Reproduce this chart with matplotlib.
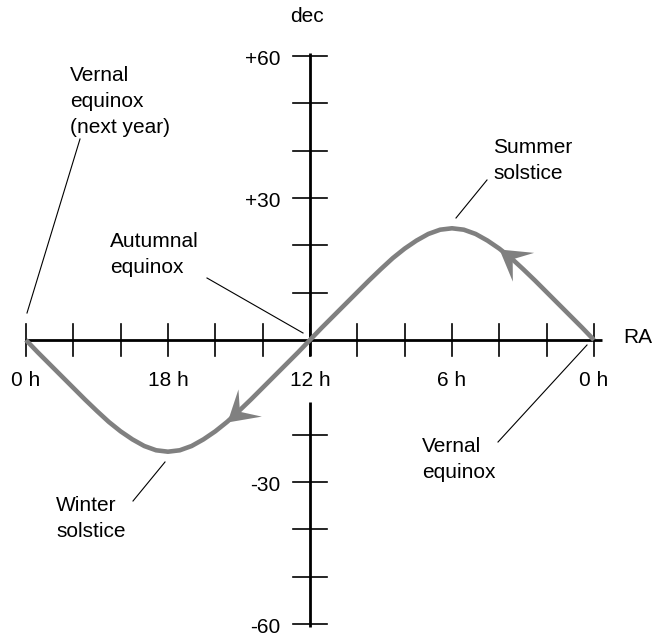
import matplotlib
matplotlib.use('Agg')
import matplotlib.pyplot as plt
from matplotlib.markers import MarkerStyle
from matplotlib.path import Path
from matplotlib.transforms import Affine2D
import numpy as np

plt.rcParams['font.family'] = ['Liberation Sans', 'DejaVu Sans']

# Ekliptik: Rektaszension (h) und Deklination (Grad)
ra = [0, 0.5, 1, 1.5, 2, 2.5, 3, 3.5, 4, 4.5, 5, 5.5, 6, 6.5, 7, 7.5, 8, 8.5, 9, 9.5,
      10, 10.5, 11, 11.5, 12, 12.5, 13, 13.5, 14, 14.5, 15, 15.5, 16, 16.5, 17, 17.5,
      18, 18.5, 19, 19.5, 20, 20.5, 21, 21.5, 22, 22.5, 23, 23.5, 24]
dec = [0.0, 2.6, 5.1, 7.6, 10.1, 12.6, 15.0, 17.3, 19.3, 21.0, 22.4, 23.3, 23.6,
       23.3, 22.4, 21.0, 19.3, 17.3, 15.0, 12.6, 10.1, 7.6, 5.1, 2.6, 0.0,
       -2.6, -5.1, -7.6, -10.1, -12.6, -15.0, -17.3, -19.3, -21.0, -22.4, -23.3, -23.6,
       -23.3, -22.4, -21.0, -19.3, -17.3, -15.0, -12.6, -10.1, -7.6, -5.1, -2.6, 0.0]

# Achsenteilung
ra_ticks = [0, 2, 4, 6, 8, 10, 12, 14, 16, 18, 20, 22, 24]
ra_label_pos = [24, 18, 12, 6, 0]
ra_labels = ['0 h', '18 h', '12 h', '6 h', '0 h']
dec_ticks = [-60, -50, -40, -30, -20, 10, 20, 30, 40, 50, 60]
dec_label_pos = [60, 30, -30, -60]
dec_labels = ['+60', '+30', '-30', '-60']

# Pfeile auf der Kurve (Rektaszension in h)
arrow_ra = [4.0, 15.5]

# Beschriftungen: Text, Position letzte Grundlinie (Pixel), Hinweislinie (Pixel)
notes = [
    ("Vernal\nequinox\n(next year)", (70, 133), [(80, 139), (27, 313)]),
    ("Autumnal\nequinox", (110, 273), [(207, 278), (303, 333)]),
    ("Summer\nsolstice", (493, 179), [(487, 180), (456, 218)]),
    ("Vernal\nequinox", (422, 478), [(498, 442), (587, 345)]),
    ("Winter\nsolstice", (56, 537), [(133, 501), (165, 462)]),
]

W, H = 654, 637
fig = plt.figure(figsize=(W / 100, H / 100), dpi=100)
ax = fig.add_axes([0, 0, 1, 1])
ax.set_xlim(25.095, -2.535)
ax.set_ylim(-62.75, 71.83)
ax.axis('off')

# Pixel-Koordinaten (Ursprung oben links)
pix = Affine2D().scale(1 / W, -1 / H).translate(0, 1) + fig.transFigure

fs = 15
grey = '#808080'

# Achsen (senkrechte Achse unter "12 h" unterbrochen)
ax.plot([24.04, -0.34], [0, 0], color='black', lw=2.0, solid_capstyle='butt', zorder=2)
ax.plot([12, 12], [60.6, -3.4], color='black', lw=2.0, solid_capstyle='butt', zorder=2)
ax.plot([12, 12], [-13.0, -60.6], color='black', lw=2.0, solid_capstyle='butt', zorder=2)
for t in ra_ticks:
    ax.plot([t, t], [-3.4, 3.4], color='black', lw=1.2, zorder=2)
for t in dec_ticks:
    ax.plot([12 - 0.72, 12 + 0.72], [t, t], color='black', lw=1.2, zorder=2)

for t, s in zip(ra_label_pos, ra_labels):
    x = ax.transData.transform((t, 0))[0]
    fig.text(x / W, 1 - 386 / H, s, ha='center', va='baseline', fontsize=fs)
for t, s in zip(dec_label_pos, dec_labels):
    y = ax.transData.transform((0, t))[1]
    fig.text(280 / W, (y - 9) / H, s, ha='right', va='baseline', fontsize=fs)

fig.text(307 / W, 1 - 22 / H, 'dec', ha='center', va='baseline', fontsize=fs)
fig.text(623 / W, 1 - 343 / H, 'RA', ha='left', va='baseline', fontsize=fs)

# Ekliptik
ax.plot(ra, dec, color=grey, lw=3.3, solid_joinstyle='round', solid_capstyle='butt', zorder=3)

# Pfeilspitzen
head = Path([(0, 0), (-1, 0.6), (-0.55, 0), (-1, -0.6), (0, 0)],
            [Path.MOVETO, Path.LINETO, Path.LINETO, Path.LINETO, Path.CLOSEPOLY])
for a in arrow_ra:
    i = ra.index(a)
    p0 = ax.transData.transform((ra[i - 1], dec[i - 1]))
    p1 = ax.transData.transform((ra[i + 1], dec[i + 1]))
    ang = np.degrees(np.arctan2(p1[1] - p0[1], p1[0] - p0[0]))
    m = MarkerStyle(head, transform=Affine2D().rotate_deg(ang))
    ax.plot([ra[i]], [dec[i]], marker=m, markersize=43, color=grey,
            markeredgewidth=0, linestyle='none', zorder=4)

# Beschriftungen mit Hinweislinien
for text, (tx, ty), line in notes:
    ax.text(tx, ty, text, transform=pix, ha='left', va='baseline', fontsize=fs,
            linespacing=1.48)
    (x0, y0), (x1, y1) = line
    ax.plot([x0, x1], [y0, y1], transform=pix, color='black', lw=0.8, zorder=2)

fig.savefig('out.png', dpi=100)
